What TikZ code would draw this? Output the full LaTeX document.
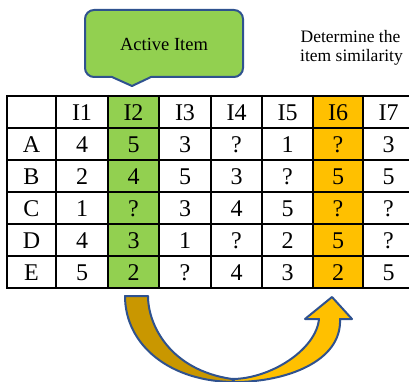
\documentclass[tikz,border=0pt]{standalone}
\usepackage{fontspec}
\setmainfont{Liberation Serif}
\definecolor{actgreen}{HTML}{92D050}
\definecolor{simorange}{HTML}{FFC000}
\definecolor{darkgold}{HTML}{C99700}
\definecolor{outlineblue}{HTML}{2F528F}
\begin{document}
\begin{tikzpicture}[x=1pt,y=-1pt,
  cell/.style={anchor=base,inner sep=0pt,font=\fontsize{24}{28}\selectfont},
  gridline/.style={line width=2pt,black},
  shapeline/.style={line width=2pt,draw=outlineblue,line join=round}]
\useasboundingbox (0,0) rectangle (409,382);
\clip (0,0) rectangle (409,382);
% column fills
\fill[actgreen] (108,96) rectangle (159,288);
\fill[simorange] (313,96) rectangle (363,288);
% grid
\foreach \y in {96,128,160,192,224,256,288}
  \draw[gridline] (7,\y) -- (416,\y);
\foreach \x in {7,56,108,159,211,262,313,363}
  \draw[gridline] (\x,95) -- (\x,289);
% header
\foreach \t [count=\i] in {I1,I2,I3,I4,I5,I6,I7}{
  \pgfmathsetmacro{\cx}{{"0","82","133.5","185","236.5","287.5","338","388.5"}[\i]}
  \node[cell] (h\i) at (\cx,120.5) {\t};
}
% rows
\foreach \r/\vals [count=\j] in {A/{4,5,3,?,1,?,3},B/{2,4,5,3,?,5,5},C/{1,?,3,4,5,?,?},D/{4,3,1,?,2,5,?},E/{5,2,?,4,3,2,5}}{
  \pgfmathsetmacro{\cy}{120.5+32*\j}
  \node[cell] (r\j) at (31.5,\cy) {\r};
  \foreach \v [count=\i] in \vals {
    \pgfmathsetmacro{\cx}{{"0","82","133.5","185","236.5","287.5","338","388.5"}[\i]}
    \node[cell] (c\j\i) at (\cx,\cy) {\v};
  }
}
% callout
\filldraw[shapeline,fill=actgreen]
  (132,86) -- (112,77) [rounded corners=9pt] -- (85,77) -- (85,10) -- (243,10) -- (243,77) [sharp corners] -- (151,77) -- cycle;
\node[inner sep=0pt,font=\fontsize{18.5}{22}\selectfont] (active) at (164,44) {Active Item};
% text
\node[anchor=base,inner sep=0pt,font=\fontsize{17.5}{20}\selectfont] (det1) at (350.5,43) {Determine the};
\node[anchor=base,inner sep=0pt,font=\fontsize{17.5}{20}\selectfont] (det2) at (351.5,62) {item similarity};
% curved arrow: back (dark) part
\filldraw[shapeline,fill=darkgold]
  (125,296) .. controls (125,345) and (170,382) .. (235,382)
  -- (232,379) .. controls (170,370) and (148,325) .. (148,296) -- cycle;
% front (light) part with head
\filldraw[shapeline,fill=simorange]
  (235,382) .. controls (285,382) and (342,362) .. (340,319)
  -- (352,319) -- (332,297) -- (305,319) -- (319,319)
  .. controls (316,350) and (270,379) .. (232,379) -- cycle;
\end{tikzpicture}
\end{document}
